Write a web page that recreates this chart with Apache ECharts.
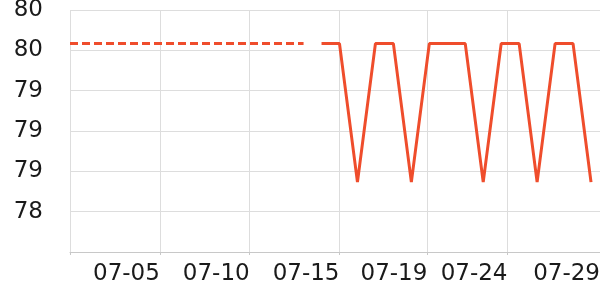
<!DOCTYPE html>
<html><head><meta charset="utf-8">
<script src="https://cdn.jsdelivr.net/npm/echarts@6/dist/echarts.min.js"></script>
<style>html,body{margin:0;padding:0;background:#fff}#c{width:600px;height:300px}</style>
</head><body><div id="c"></div>
<script>
// daily dates of the series
const dates = [
  '2024-06-30','2024-07-01','2024-07-02','2024-07-03','2024-07-04','2024-07-05','2024-07-06',
  '2024-07-07','2024-07-08','2024-07-09','2024-07-10','2024-07-11','2024-07-12','2024-07-13',
  '2024-07-14','2024-07-15','2024-07-16','2024-07-17','2024-07-18','2024-07-19','2024-07-20',
  '2024-07-21','2024-07-22','2024-07-23','2024-07-24','2024-07-25','2024-07-26','2024-07-27',
  '2024-07-28','2024-07-29'
];
// dashed part (first 14 days)
const dashedValues = [80.15,80.15,80.15,80.15,80.15,80.15,80.15,80.15,80.15,80.15,80.15,80.15,80.15,80.15];
// solid part (last 16 days)
const solidValues = [80.15,80.15,79.12,80.15,80.15,79.12,80.15,80.15,80.15,79.12,80.15,80.15,79.12,80.15,80.15,79.12];

const xMin = '2024-06-30T00:00';
const xMax = '2024-07-29T12:00';
const xTickValues = ['2024-06-30T00:00','2024-07-05T00:00','2024-07-10T00:00','2024-07-15T00:00','2024-07-19T21:20','2024-07-24T08:25','2024-07-29T12:00'];
const xLabelValues = ['2024-07-05T00:00','2024-07-10T00:00','2024-07-15T00:00','2024-07-19T21:20','2024-07-24T08:25','2024-07-29T12:00'];
const xTickLabels = ['07-05','07-10','07-15','07-19','07-24','07-29'];

const yMin = 78.6, yMax = 80.4, yStep = 0.3;
const yTickLabels = ['', '78', '79', '79', '79', '80', '80']; // bottom to top

const t = s => Date.parse((s.length === 10 ? s + 'T00:00' : s) + ':00Z');

const dashedData = dashedValues.map((v, i) => [t(dates[i]), v]);
const solidData = solidValues.map((v, i) => [t(dates[i + dashedValues.length]), v]);
const labelNums = xLabelValues.map(t);

const color = '#ef4d2c';
const chart = echarts.init(document.getElementById('c'), null, {renderer: 'canvas'});
chart.setOption({
  animation: false,
  grid: {left: 70, right: 0, top: 10, bottom: 48, containLabel: false, outerBoundsMode: 'none'},
  xAxis: {
    type: 'value', min: t(xMin), max: t(xMax), scale: true,
    axisLine: {show: true, lineStyle: {color: '#c8c8c8', width: 1}},
    axisTick: {show: true, length: 3, customValues: xTickValues.map(t), lineStyle: {color: '#c8c8c8'}},
    axisLabel: {
      customValues: labelNums,
      formatter: (v) => xTickLabels[labelNums.indexOf(v)] ?? '',
      align: 'right', fontSize: 23, color: '#1a1a1a', margin: 11,
      fontFamily: 'DejaVu Sans'
    },
    splitLine: {show: true, lineStyle: {color: '#dddddd', width: 1}}
  },
  yAxis: {
    type: 'value', min: yMin, max: yMax, interval: yStep,
    axisLine: {show: false}, axisTick: {show: false},
    axisLabel: {
      formatter: (v, i) => yTickLabels[i],
      fontSize: 23, color: '#1a1a1a', margin: 27, fontFamily: 'DejaVu Sans'
    },
    splitLine: {show: true, lineStyle: {color: '#dddddd', width: 1}}
  },
  series: [
    {type: 'line', data: dashedData, symbol: 'none', showSymbol: false,
     lineStyle: {color: color, width: 3, type: [8, 4]}, itemStyle: {color: color}},
    {type: 'line', data: solidData, symbol: 'none', showSymbol: false,
     lineStyle: {color: color, width: 3, type: 'solid'}, itemStyle: {color: color}}
  ]
});
</script></body></html>
